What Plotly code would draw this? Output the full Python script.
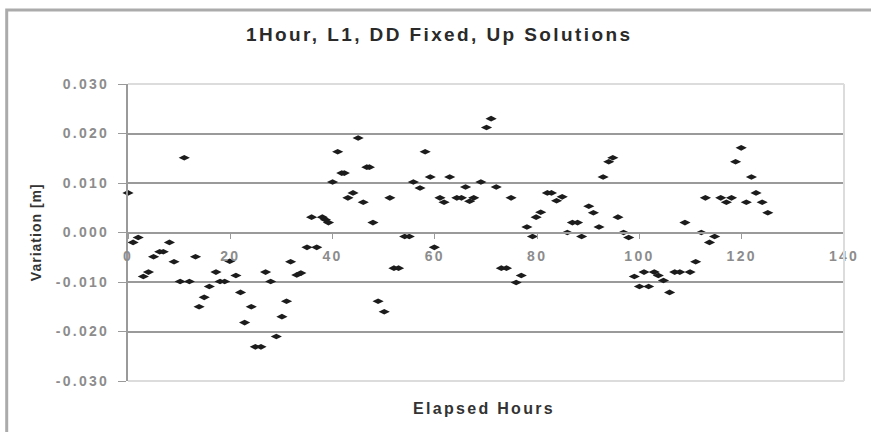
import plotly.graph_objects as go

# Elapsed hours (x) and up-component variation in metres (y)
hours = [0.0, 1.0, 2.0, 3.0, 4.0, 5.0, 6.2, 6.9, 8.1, 9.0, 10.2, 11.0, 12.0, 13.2, 13.9,
         14.9, 15.9, 17.2, 18.0, 18.9, 19.9, 21.1, 22.0, 22.8, 24.1, 24.9, 26.0, 26.9,
         27.9, 29.0, 30.1, 31.0, 31.8, 33.0, 33.8, 35.0, 35.9, 36.9, 38.0, 38.6, 39.2,
         40.0, 41.0, 41.8, 42.3, 43.0, 44.0, 45.0, 46.0, 46.7, 47.2, 47.9, 48.9, 50.1,
         51.2, 52.0, 52.9, 54.1, 55.0, 55.8, 57.1, 58.1, 59.1, 59.9, 61.0, 61.8, 62.9,
         64.3, 65.2, 66.0, 66.8, 67.6, 69.0, 70.1, 71.0, 72.0, 73.0, 74.0, 74.9, 75.9,
         76.9, 78.0, 79.1, 79.8, 80.7, 82.0, 82.8, 83.8, 84.9, 85.9, 86.9, 87.9, 88.7,
         90.1, 91.0, 92.1, 92.9, 94.0, 94.8, 95.8, 96.9, 97.9, 99.0, 100.0, 100.9, 101.8,
         102.9, 103.7, 104.7, 105.9, 106.9, 107.9, 108.9, 109.9, 111.0, 112.1, 112.9,
         113.7, 114.7, 115.9, 117.0, 118.0, 118.8, 119.9, 120.9, 121.9, 122.8, 124.0, 125.1]
variation = [0.0080, -0.0020, -0.0010, -0.0089, -0.0080, -0.0049, -0.0039, -0.0039, -0.0020,
             -0.0059, -0.0099, 0.0151, -0.0099, -0.0049, -0.0150, -0.0131, -0.0109, -0.0080,
             -0.0099, -0.0099, -0.0058, -0.0087, -0.0121, -0.0182, -0.0150, -0.0231, -0.0231,
             -0.0080, -0.0099, -0.0210, -0.0170, -0.0139, -0.0059, -0.0086, -0.0082, -0.0030,
             0.0031, -0.0030, 0.0031, 0.0026, 0.0020, 0.0102, 0.0163, 0.0120, 0.0120, 0.0070,
             0.0080, 0.0191, 0.0061, 0.0132, 0.0132, 0.0020, -0.0139, -0.0160, 0.0070, -0.0072,
             -0.0072, -0.0008, -0.0008, 0.0102, 0.0090, 0.0163, 0.0112, -0.0030, 0.0070, 0.0061,
             0.0112, 0.0070, 0.0070, 0.0092, 0.0063, 0.0070, 0.0102, 0.0212, 0.0230, 0.0092,
             -0.0072, -0.0072, 0.0070, -0.0101, -0.0087, 0.0011, -0.0008, 0.0031, 0.0041, 0.0080,
             0.0080, 0.0064, 0.0072, 0.0000, 0.0020, 0.0020, -0.0008, 0.0053, 0.0040, 0.0011,
             0.0112, 0.0143, 0.0151, 0.0031, 0.0000, -0.0010, -0.0089, -0.0109, -0.0080, -0.0109,
             -0.0080, -0.0087, -0.0097, -0.0121, -0.0080, -0.0080, 0.0020, -0.0080, -0.0059,
             0.0000, 0.0070, -0.0020, -0.0008, 0.0070, 0.0061, 0.0070, 0.0143, 0.0171, 0.0061,
             0.0112, 0.0080, 0.0061, 0.0040]

x_ticks = [0, 20, 40, 60, 80, 100, 120, 140]
y_ticks = [-0.03, -0.02, -0.01, 0.0, 0.01, 0.02, 0.03]
y_tick_labels = ["-0.030", "-0.020", "-0.010", "0.000", "0.010", "0.020", "0.030"]

title_text = "1Hour, L1, DD Fixed, Up Solutions"
x_title = "Elapsed Hours"
y_title = "Variation [m]"


def spaced(t, px):
    return '<span style="letter-spacing:%spx">%s</span>' % (px, t)


fig = go.Figure()
fig.add_trace(go.Scatter(
    x=hours, y=variation, mode="markers",
    marker=dict(symbol="diamond-wide", size=8, color="#1c1c1c"),
    cliponaxis=False, showlegend=False,
))

tick_font = dict(size=14, color="#8c8c8c", family="Liberation Sans, Arial, sans-serif")

fig.update_layout(
    width=871, height=432,
    margin=dict(l=128, r=23, t=84, b=51),
    paper_bgcolor="white", plot_bgcolor="white",
    font=dict(family="Liberation Sans, Arial, sans-serif"),
    xaxis=dict(
        range=[0, 140], tickvals=x_ticks,
        ticktext=["<b>" + spaced(str(v), 2.3) + "</b>" for v in x_ticks],
        anchor="free", position=0.5, showline=True, linecolor="#9a9a9a", linewidth=2,
        ticks="outside", ticklen=5, tickcolor="#9a9a9a", tickwidth=1,
        showgrid=False, zeroline=False, tickfont=tick_font, ticklabelstandoff=6,
    ),
    yaxis=dict(
        range=[-0.03, 0.03], tickvals=y_ticks,
        ticktext=["<b>" + spaced(t, 2.3) + "</b>" for t in y_tick_labels],
        showgrid=True, gridcolor="#9a9a9a", gridwidth=2,
        showline=True, linecolor="#9a9a9a", linewidth=2,
        ticks="outside", ticklen=8, tickcolor="#9a9a9a", tickwidth=1,
        zeroline=False, tickfont=tick_font, ticklabelstandoff=6,
    ),
    shapes=[
        dict(type="rect", xref="paper", yref="paper", x0=-0.1694, x1=1.06, y0=-0.22, y1=1.249,
             line=dict(color="#ababab", width=3), layer="below"),
        dict(type="line", xref="paper", yref="paper", x0=0, x1=1, y0=1, y1=1,
             line=dict(color="#dcdcdc", width=2), layer="above"),
        dict(type="line", xref="paper", yref="paper", x0=0, x1=1, y0=0, y1=0,
             line=dict(color="#dcdcdc", width=2), layer="above"),
        dict(type="line", xref="paper", yref="paper", x0=1, x1=1, y0=0, y1=1,
             line=dict(color="#dcdcdc", width=2), layer="above"),
    ],
    annotations=[
        dict(text="<b>" + spaced(title_text, 2.4) + "</b>", xref="paper", yref="paper",
             x=0.4347, y=1.168, xanchor="center", yanchor="middle", showarrow=False,
             font=dict(size=19, color="#2a2a2a")),
        dict(text="<b>" + spaced(x_title, 2.3) + "</b>", xref="paper", yref="paper",
             x=0.497, y=-0.091, xanchor="center", yanchor="middle", showarrow=False,
             font=dict(size=16, color="#333333")),
        dict(text="<b>" + spaced(y_title, 1) + "</b>", xref="paper", yref="paper",
             x=-0.129, y=0.5, xanchor="center", yanchor="middle", showarrow=False,
             textangle=-90, font=dict(size=14, color="#333333")),
    ],
)

fig.write_html("out.html", config={"displayModeBar": False},
               post_script="document.body.style.margin='0';")
